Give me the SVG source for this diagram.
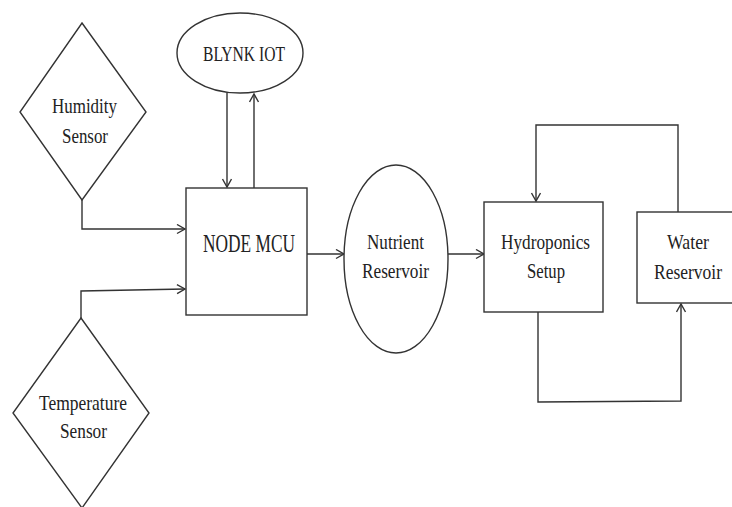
<svg xmlns="http://www.w3.org/2000/svg" width="732" height="507" viewBox="0 0 732 507">
<defs>
<style>
.shape{fill:#fff;stroke:#333;stroke-width:1.4}
.conn{fill:none;stroke:#333;stroke-width:1.4}
.lbl{font-family:'Liberation Serif','DejaVu Serif',serif;font-size:22px;fill:#222;text-anchor:middle}
.big{font-size:25px}
</style>
<marker id="arr" markerUnits="userSpaceOnUse" markerWidth="12" markerHeight="12" refX="9" refY="5" orient="auto">
<path d="M1,0.5 L9,5 L1,9.5" fill="none" stroke="#333" stroke-width="1.4"/>
</marker>
</defs>
<rect width="732" height="507" fill="#fff"/>
<g id="connectors">
<path class="conn" d="M82,200 V229 H185" marker-end="url(#arr)"/>
<path class="conn" d="M81,318 V291 L185,289" marker-end="url(#arr)"/>
<path class="conn" d="M227,93 V187" marker-end="url(#arr)"/>
<path class="conn" d="M254,188 V94" marker-end="url(#arr)"/>
<path class="conn" d="M307,254 H344" marker-end="url(#arr)"/>
<path class="conn" d="M448,254 H484" marker-end="url(#arr)"/>
<path class="conn" d="M678,212 V125 H536 V201" marker-end="url(#arr)"/>
<path class="conn" d="M538,312 V402 L681,401 V304" marker-end="url(#arr)"/>
</g>
<g id="humidity">
<polygon class="shape" points="82,23 146,112 82,200 20,112"/>
<text class="lbl" x="84.5" y="113" textLength="65" lengthAdjust="spacingAndGlyphs">Humidity</text>
<text class="lbl" x="85" y="143" textLength="46" lengthAdjust="spacingAndGlyphs">Sensor</text>
</g>
<g id="temperature">
<polygon class="shape" points="81,318 149,413 82,508 13,413"/>
<text class="lbl" x="83" y="410" textLength="88" lengthAdjust="spacingAndGlyphs">Temperature</text>
<text class="lbl" x="83.5" y="438" textLength="47" lengthAdjust="spacingAndGlyphs">Sensor</text>
</g>
<g id="blynk">
<ellipse class="shape" cx="240" cy="53" rx="63" ry="40"/>
<text class="lbl" x="244" y="61" textLength="82" lengthAdjust="spacingAndGlyphs">BLYNK IOT</text>
</g>
<g id="nodemcu">
<rect class="shape" x="186" y="188" width="121" height="127"/>
<text class="lbl big" x="249" y="252" textLength="92" lengthAdjust="spacingAndGlyphs">NODE MCU</text>
</g>
<g id="nutrient">
<ellipse class="shape" cx="396" cy="259" rx="52" ry="94"/>
<text class="lbl" x="395.5" y="249" textLength="57" lengthAdjust="spacingAndGlyphs">Nutrient</text>
<text class="lbl" x="395.5" y="278" textLength="67" lengthAdjust="spacingAndGlyphs">Reservoir</text>
</g>
<g id="hydroponics">
<rect class="shape" x="484" y="202" width="119" height="110"/>
<text class="lbl" x="545.5" y="249" textLength="89" lengthAdjust="spacingAndGlyphs">Hydroponics</text>
<text class="lbl" x="546" y="278" textLength="38" lengthAdjust="spacingAndGlyphs">Setup</text>
</g>
<g id="water">
<rect class="shape" x="637" y="212" width="110" height="91"/>
<text class="lbl" x="688" y="249" textLength="42" lengthAdjust="spacingAndGlyphs">Water</text>
<text class="lbl" x="688" y="279" textLength="68" lengthAdjust="spacingAndGlyphs">Reservoir</text>
</g>
</svg>
